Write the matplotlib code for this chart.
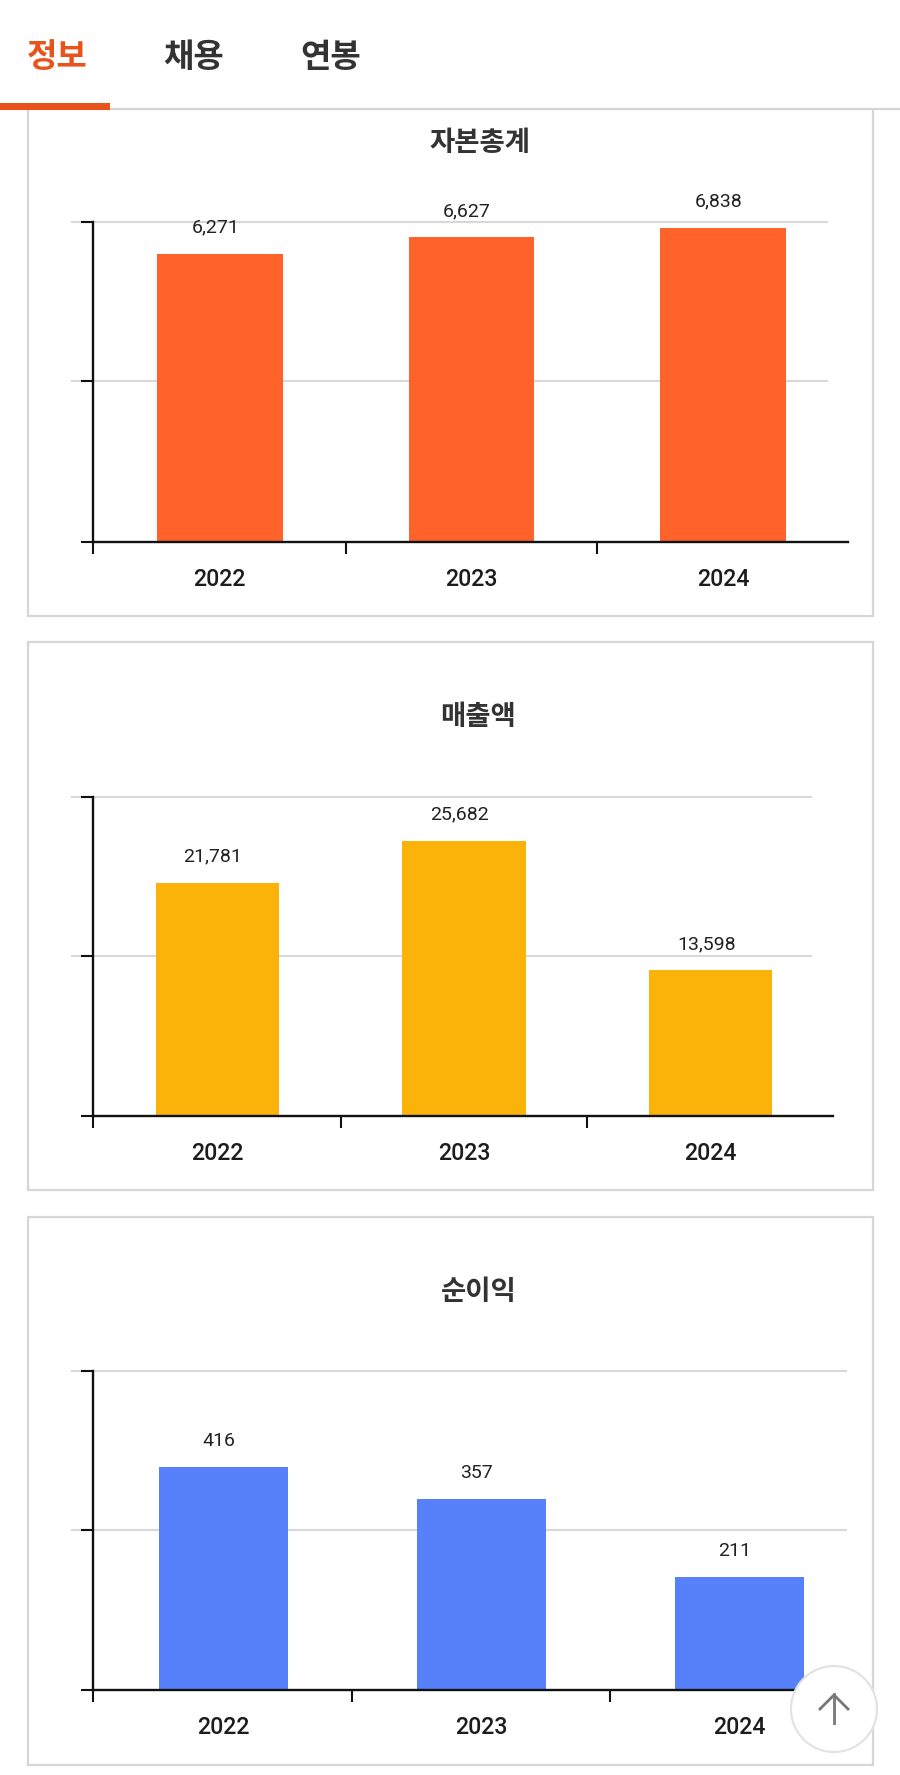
import matplotlib

matplotlib.use("Agg")
import matplotlib.pyplot as plt
from matplotlib.patches import Circle, Rectangle

plt.rcParams["font.family"] = ["Roboto", "Noto Sans CJK KR", "DejaVu Sans"]

WIDTH = 900
HEIGHT = 1775
KOREAN = ["Noto Sans CJK KR", "DejaVu Sans"]

years = ["2022", "2023", "2024"]
capital = [6271, 6627, 6838]
sales = [21781, 25682, 13598]
profit = [416, 357, 211]
tabs = ["정보", "채용", "연봉"]


def px_axes(fig, left, top, right, bottom):
    return fig.add_axes(
        [left / WIDTH, 1 - bottom / HEIGHT, (right - left) / WIDTH, (bottom - top) / HEIGHT]
    )


def draw_card(bg, top, bottom):
    bg.add_patch(
        Rectangle((27.5, top), 845, bottom - top, facecolor="white", edgecolor="#d6d6d6", linewidth=1.6)
    )


def draw_chart(fig, bg, title, title_x, title_y, values, color, y_max, top, bottom, axis_end, grid_end):
    ax = px_axes(fig, 93, top, axis_end, bottom)
    ax.set_zorder(1)
    ax.patch.set_alpha(0)
    ax.set_xlim(0, 3)
    ax.set_ylim(0, y_max)

    # gridlines poke out to the left of the axis
    plot_w = axis_end - 93
    mid = y_max * 0.503
    for v in [mid, y_max]:
        ax.plot(
            [-21 / plot_w, (grid_end - 93) / plot_w], [v, v],
            transform=ax.get_yaxis_transform(), color="#d8d8d8", linewidth=1.5,
            clip_on=False, zorder=1,
        )

    positions = [0.504, 1.504, 2.504]
    ax.bar(positions, values, width=0.5, color=color, zorder=2)

    for pos, value in zip(positions, values):
        ax.annotate(
            f"{value:,}", (pos - 0.018, value), xytext=(0, 18.9), textcoords="offset points",
            ha="center", va="center", fontsize=14, color="#222222",
        )

    for side in ["top", "right"]:
        ax.spines[side].set_visible(False)
    for side in ["left", "bottom"]:
        ax.spines[side].set_linewidth(1.7)
        ax.spines[side].set_color("#111111")

    ax.set_yticks([0, mid, y_max])
    ax.set_yticklabels([])
    ax.set_xticks([0, 1.004, 2.004])
    ax.set_xticklabels([])
    ax.tick_params(axis="both", length=8.5, width=1.5, color="#111111")

    for pos, year in zip(positions, years):
        ax.annotate(
            year, (pos, 0), xytext=(0, -27.2), textcoords="offset points",
            ha="center", va="center", fontsize=16.7, fontweight="medium", color="#1c1c1c",
        )

    bg.text(
        title_x, title_y, title, ha="center", va="center", fontsize=19.8,
        fontweight="bold", family=KOREAN, color="#333333",
    )
    return ax


fig = plt.figure(figsize=(WIDTH / 100, HEIGHT / 100), dpi=100, facecolor="white")

bg = fig.add_axes([0, 0, 1, 1])
bg.set_xlim(0, WIDTH)
bg.set_ylim(HEIGHT, 0)
bg.axis("off")
bg.set_zorder(0)

draw_card(bg, 90, 616)
draw_card(bg, 642, 1190)
draw_card(bg, 1217, 1765)

# tab bar sits over the top of the first card
bg.add_patch(Rectangle((0, 0), WIDTH, 109, facecolor="white", edgecolor="none", zorder=3))
bg.plot([0, WIDTH], [109, 109], color="#d4d4d4", linewidth=1.6, zorder=4)
bg.add_patch(Rectangle((0, 103), 110, 7, facecolor="#e8531c", edgecolor="none", zorder=5))
for tab, x, c in zip(tabs, [57, 194, 331], ["#e8531c", "#333333", "#333333"]):
    bg.text(x, 57, tab, ha="center", va="center", fontsize=23.8, family=KOREAN,
            fontweight="bold", color=c, zorder=5)

draw_chart(fig, bg, "자본총계", 479.5, 143, capital, "#ff632b", 6960, 222, 542, 848, 827)
draw_chart(fig, bg, "매출액", 478, 717, sales, "#fbb309", 29800, 797, 1116, 833, 811)
draw_chart(fig, bg, "순이익", 478.5, 1292, profit, "#5681fb", 596, 1371, 1690, 867.5, 846)

top = fig.add_axes([0, 0, 1, 1])
top.set_xlim(0, WIDTH)
top.set_ylim(HEIGHT, 0)
top.axis("off")
top.set_zorder(2)
top.add_patch(Circle((834, 1709), 43, facecolor="white", edgecolor="#e2e2e2", linewidth=1.5))
top.plot([834, 834], [1696 - 2, 1723], color="#777777", linewidth=2)
top.plot([820, 834, 848], [1709, 1695, 1709], color="#777777", linewidth=2)

fig.savefig("out.png", dpi=100)
plt.close(fig)
